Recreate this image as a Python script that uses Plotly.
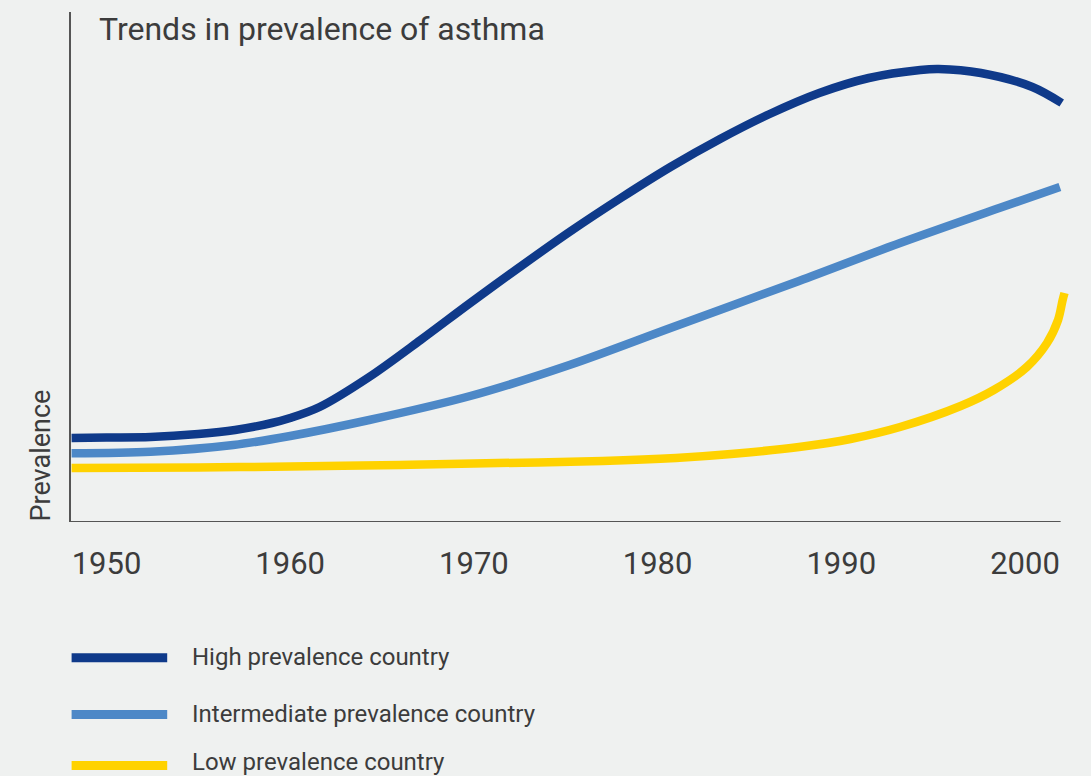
import plotly.graph_objects as go

# ---- data (prevalence in arbitrary units) ----
high_years = [1948.1, 1950.0, 1952.4, 1955.0, 1957.0, 1959.0, 1960.0, 1961.6, 1964.3,
              1967.1, 1969.8, 1972.5, 1975.2, 1978.0, 1980.7, 1983.4, 1986.1, 1988.8,
              1991.5, 1994.3, 1995.3, 1997.6, 2000.4, 2002.0]
high_values = [8.4, 8.45, 8.5, 8.8, 9.2, 9.9, 10.4, 11.5, 14.5,
               18.2, 21.9, 25.5, 29.0, 32.4, 35.5, 38.3, 40.8, 42.9,
               44.4, 45.2, 45.3, 44.9, 43.5, 41.9]

mid_years = [1948.1, 1952.4, 1956.9, 1960.0, 1964.3, 1969.8, 1975.2, 1980.7,
             1987.7, 1993.2, 1998.6, 2001.9]
mid_values = [6.87, 7.03, 7.7, 8.6, 10.2, 12.6, 15.7, 19.4,
              24.1, 27.9, 31.4, 33.5]

low_years = [1948.1, 1955.0, 1960.0, 1966.0, 1970.0, 1977.0, 1981.0, 1984.0, 1987.7,
             1990.5, 1993.2, 1996.5, 1998.3, 2000.1, 2001.2, 2001.8, 2002.05, 2002.15]
low_values = [5.4, 5.45, 5.55, 5.7, 5.85, 6.1, 6.4, 6.8, 7.5,
              8.3, 9.5, 11.6, 13.2, 15.5, 17.9, 20.2, 22.2, 22.9]

series_names = ["High prevalence country", "Intermediate prevalence country",
                "Low prevalence country"]
series_colors = ["#0f3a8a", "#4d88c7", "#ffd200"]

tick_years = [1950, 1960, 1970, 1980, 1990, 2000]
tick_labels = ["1950", "1960", "1970", "1980", "1990", "2000"]

title_text = "Trends in prevalence of asthma"
y_title_text = "Prevalence"

# ---- layout geometry ----
W, H = 1091, 776
ML, MR, MT, MB = 71, 16, 12, 254
PW = W - ML - MR
PH = H - MT - MB
X0 = 1948.068
PX_PER_YEAR = 18.37
X1 = X0 + PW / PX_PER_YEAR
AXIS_END = 2001.94
Y_MAX = 51.0

def px_x(px):
    return (px - ML) / PW

def px_y(py):
    return (MT + PH - py) / PH

BG = "#eff1f0"
TEXT = "#3c3c3c"
AXIS = "#555555"
FONT = "Roboto"

fig = go.Figure()
for xs, ys, name, color in zip([high_years, mid_years, low_years],
                               [high_values, mid_values, low_values],
                               series_names, series_colors):
    fig.add_trace(go.Scatter(x=xs, y=ys, mode="lines", name=name,
                             line=dict(color=color, width=8.5, shape="spline", smoothing=0.9),
                             showlegend=False, hoverinfo="skip"))

# bottom axis line (ends before the curves do)
fig.add_shape(type="line", xref="x", yref="y", x0=X0, x1=AXIS_END, y0=0, y1=0,
              line=dict(color=AXIS, width=2), layer="above")

# custom legend
legend_rows = [657.8, 714.5, 765.5]
legend_text_rows = [657.3, 714.0, 761.5]
for name, color, row, trow in zip(series_names, series_colors, legend_rows, legend_text_rows):
    fig.add_shape(type="line", xref="paper", yref="paper",
                  x0=px_x(71.6), x1=px_x(167.2), y0=px_y(row), y1=px_y(row),
                  line=dict(color=color, width=9))
    fig.add_annotation(xref="paper", yref="paper", x=px_x(189.6), y=px_y(trow),
                       xanchor="left", yanchor="middle", text=name, showarrow=False,
                       font=dict(family=FONT, size=24, color=TEXT))

# title
fig.add_annotation(xref="paper", yref="paper", x=px_x(97.2), y=px_y(29.5),
                   xanchor="left", yanchor="middle", text=title_text, showarrow=False,
                   font=dict(family=FONT, size=32, color=TEXT))

# y-axis title
fig.add_annotation(xref="paper", yref="paper", x=px_x(40), y=px_y(455.5),
                   xanchor="center", yanchor="middle", text=y_title_text, showarrow=False,
                   textangle=-90, font=dict(family=FONT, size=27, color=TEXT))

fig.update_layout(
    width=W, height=H,
    margin=dict(l=ML, r=MR, t=MT, b=MB, pad=0),
    paper_bgcolor=BG, plot_bgcolor=BG,
    font=dict(family=FONT, color=TEXT),
    xaxis=dict(range=[X0, X1], tickvals=tick_years, ticktext=tick_labels,
               showgrid=False, zeroline=False, showline=False,
               ticks="outside", ticklen=14, tickcolor="rgba(0,0,0,0)",
               tickfont=dict(family=FONT, size=31, color=TEXT), fixedrange=True),
    yaxis=dict(range=[0, Y_MAX], showticklabels=False, showgrid=False, zeroline=False,
               showline=True, linecolor=AXIS, linewidth=2, ticks="", fixedrange=True),
)

page_style = ("document.body.style.margin='0';"
              "document.body.style.background='" + BG + "';"
              "document.documentElement.style.background='" + BG + "';")

fig.write_html("out.html", config={"displayModeBar": False}, post_script=page_style)
